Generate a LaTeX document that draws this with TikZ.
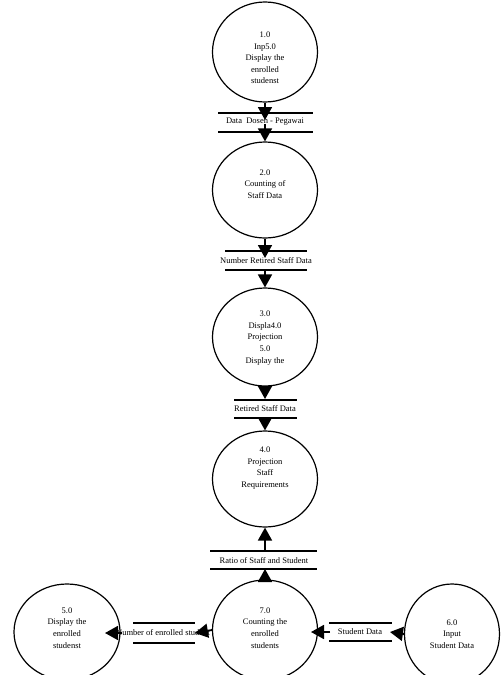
\documentclass[tikz,border=0pt]{standalone}
\usepackage{fontspec}
\setmainfont{Liberation Serif}
\usetikzlibrary{shapes.geometric,arrows.meta}
\tikzset{
  proc/.style={draw, ellipse, line width=1.2pt, inner sep=0pt},
  ptext/.style={align=center, font=\fontsize{8.5}{11.6}\selectfont, inner sep=0pt},
  stext/.style={font=\fontsize{8.5}{10}\selectfont, inner sep=0pt, fill=white},
  sline/.style={line width=1.2pt},
  arr/.style={line width=1.8pt, -{Triangle[length=13pt,width=14pt]}},
}
\begin{document}
\begin{tikzpicture}[x=1pt,y=-1pt]
\useasboundingbox (0,0) rectangle (501,675);
% processes
\node[proc, minimum width=105pt, minimum height=100pt] (c1) at (265,52) {};
\node[ptext] (t1) at (265,58) {1.0\\Inp5.0\\Display the\\enrolled\\studenst};
\node[proc, minimum width=105pt, minimum height=96pt] (c2) at (265,190) {};
\node[ptext] (t2) at (265,184) {2.0\\Counting of\\Staff Data};
\node[proc, minimum width=105pt, minimum height=98pt] (c3) at (265,337) {};
\node[ptext] (t3) at (265,338) {3.0\\Displa4.0\\Projection\\5.0\\Display the};
\node[proc, minimum width=105pt, minimum height=96pt] (c4) at (265,479) {};
\node[ptext] (t4) at (265,468) {4.0\\Projection\\Staff\\Requirements};
\node[proc, minimum width=105pt, minimum height=100pt] (c7) at (265,630) {};
\node[ptext] (t7) at (265,628) {7.0\\Counting the\\enrolled\\students};
\node[proc, minimum width=106pt, minimum height=96pt] (c5) at (67,632) {};
\node[ptext] (t5) at (67,628) {5.0\\Display the\\enrolled\\studenst};
\node[proc, minimum width=95pt, minimum height=100pt] (c6) at (452,634) {};
\node[ptext] (t6) at (452,634) {6.0\\Input\\Student Data};
% stores: lines
\coordinate (s1a) at (218,113); \coordinate (s1b) at (313,113);
\coordinate (s1c) at (218,132); \coordinate (s1d) at (313,132);
\coordinate (s2a) at (225,251); \coordinate (s2b) at (307,251);
\coordinate (s2c) at (225,270); \coordinate (s2d) at (307,270);
\coordinate (s3a) at (234,400); \coordinate (s3b) at (297,400);
\coordinate (s3c) at (234,418); \coordinate (s3d) at (297,418);
\coordinate (s4a) at (210,551); \coordinate (s4b) at (317,551);
\coordinate (s4c) at (210,569); \coordinate (s4d) at (317,569);
\coordinate (s5a) at (133,623); \coordinate (s5b) at (195,623);
\coordinate (s5c) at (133,643); \coordinate (s5d) at (195,643);
\coordinate (s6a) at (329,623); \coordinate (s6b) at (392,623);
\coordinate (s6c) at (329,641); \coordinate (s6d) at (392,641);
\foreach \s in {s1,s2,s3,s4,s5,s6}{
  \draw[sline] (\s a) -- (\s b);
  \draw[sline] (\s c) -- (\s d);
}
% arrow end points
\coordinate (a1) at (265,120); \coordinate (b1) at (265,124);
\coordinate (a2) at (265,258); \coordinate (b2) at (265,270);
\coordinate (a3) at (265,399); \coordinate (b3) at (265,418);
\coordinate (a4) at (265,569); \coordinate (b4) at (265,551);
\coordinate (a5) at (195,633); \coordinate (b5) at (122,633); \coordinate (e5) at (105,633);
\coordinate (a6) at (390,632); \coordinate (b6) at (330,632); \coordinate (e6) at (311,632);
% arrows
\draw[arr] (c1.south) -- (a1);
\draw[arr] (b1) -- (c2.north);
\draw[arr] (c2.south) -- (a2);
\draw[arr] (b2) -- (c3.north);
\draw[arr] (c3.south) -- (a3);
\draw[arr] (b3) -- (c4.north);
\draw[arr] (c7.north) -- (a4);
\draw[arr] (b4) -- (c4.south);
\draw[arr] (c7.west) -- (a5);
\draw[arr] (b5) -- (e5);
\draw[arr] (c6.west) -- (a6);
\draw[arr] (b6) -- (e6);
% store labels
\node[stext, fill=none] (l1) at (265,122) {Data\ \ Dosen - Pegawai};
\node[stext] (l2) at (266,261) {Number Retired Staff Data};
\node[stext] (l3) at (265,409) {Retired Staff Data};
\node[stext] (l4) at (264,561) {Ratio of Staff and Student};
\node[stext, fill=none] (l5) at (163,633) {Number of enrolled student};
\node[stext] (l6) at (360,632) {Student Data};
\end{tikzpicture}
\end{document}
